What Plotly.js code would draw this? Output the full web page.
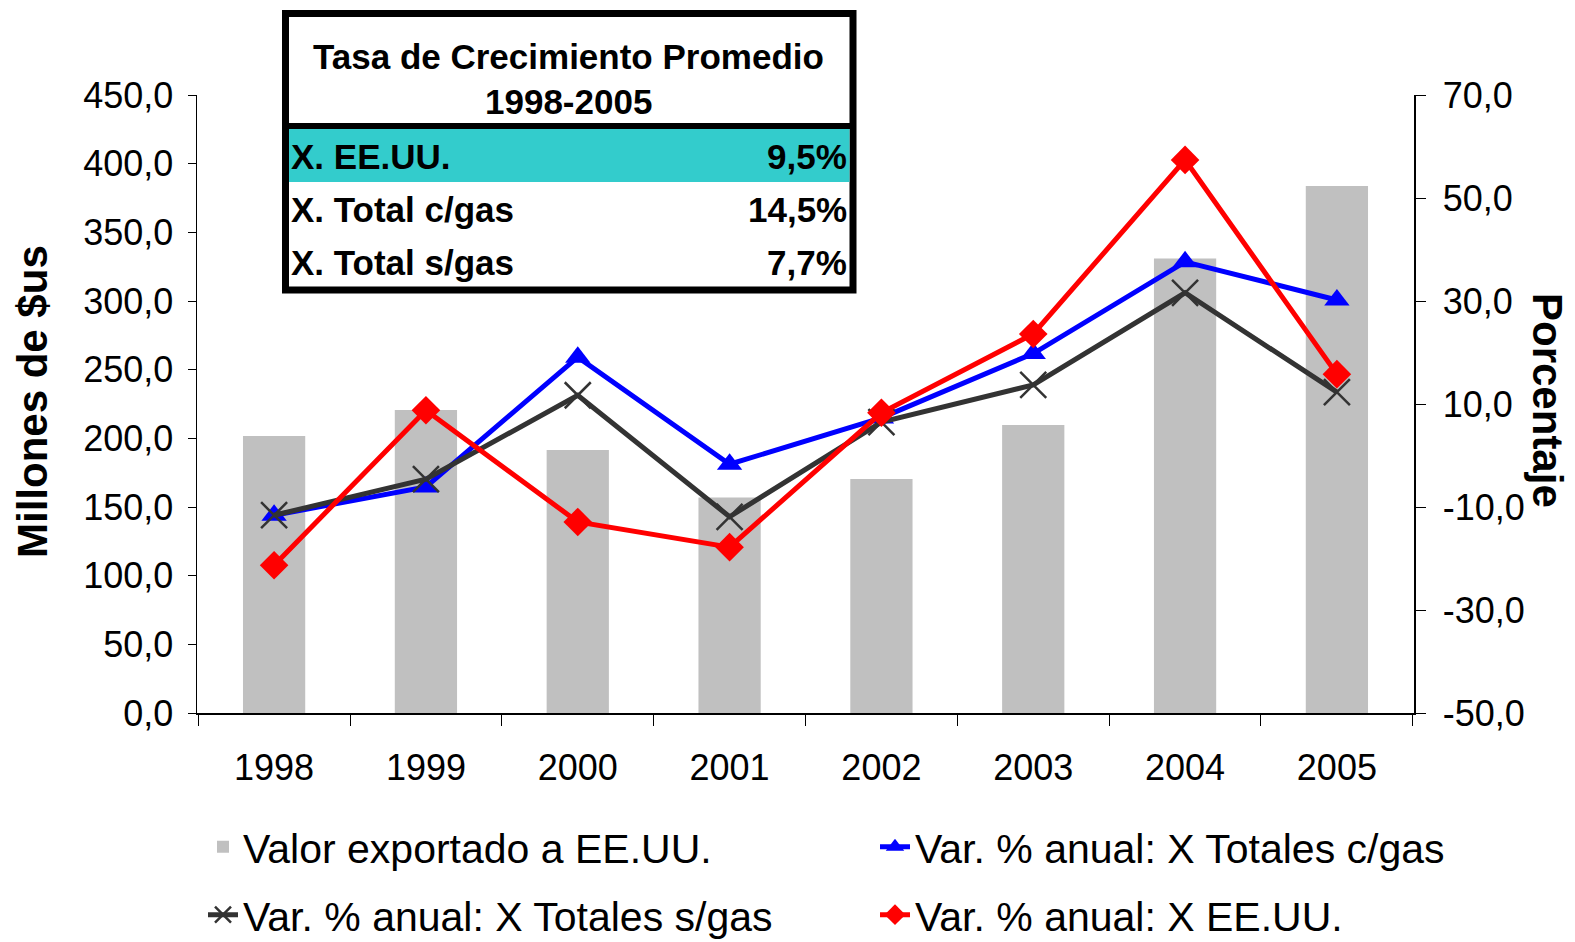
<!DOCTYPE html>
<html>
<head>
<meta charset="utf-8">
<script src="https://cdn.plot.ly/plotly-3.0.1.min.js"></script>
<style>
  html, body { margin: 0; padding: 0; background: #fff; }
  #chart { width: 1575px; height: 942px; }
</style>
</head>
<body>
<div id="chart"></div>
<script>
const years = ["1998", "1999", "2000", "2001", "2002", "2003", "2004", "2005"];
const exportValues = [201.7, 220.6, 191.5, 157.0, 170.4, 209.7, 331.0, 383.7];
const varTotalConGas = [-11.6, -6.1, 19.1, -1.7, 7.3, 19.8, 37.6, 30.2];
const varTotalSinGas = [-11.6, -4.6, 11.7, -11.9, 6.5, 13.7, 31.6, 12.3];
const varEEUU = [-21.3, 8.8, -12.9, -17.8, 8.3, 23.6, 57.4, 15.8];

const rightTicks = [-50, -30, -10, 10, 30, 50, 70];
const rightTickText = rightTicks.map(v => v.toFixed(1).replace(".", ","));

const tableTitle = ["Tasa de Crecimiento Promedio", "1998-2005"];
const tableLabels = ["X. EE.UU.", "X. Total c/gas", "X. Total s/gas"];
const tableValues = ["9,5%", "14,5%", "7,7%"];

const FONT = "Liberation Sans, Arial, sans-serif";

// plot area in pixels
const L = 197, R = 1414, T = 95, B = 713;
const px = x => (x - L) / (R - L);
const py = y => (B - y) / (B - T);

function tableShapes() {
  return [
    {
      type: "rect", xref: "paper", yref: "paper", layer: "above",
      x0: px(285.5), x1: px(853), y0: py(13.5), y1: py(290),
      fillcolor: "#ffffff", line: { color: "#000", width: 7 }
    },
    {
      type: "rect", xref: "paper", yref: "paper", layer: "above",
      x0: px(289), x1: px(849.5), y0: py(129), y1: py(182),
      fillcolor: "#33CCCC", line: { width: 0 }
    },
    {
      type: "line", xref: "paper", yref: "paper", layer: "above",
      x0: px(282), x1: px(856), y0: py(126), y1: py(126),
      line: { color: "#000", width: 6 }
    }
  ];
}

function tableAnnotations() {
  const rowY = [156, 209, 262];
  const notes = [];
  const bold = { family: FONT, size: 35, color: "#000" };
  notes.push({ text: "<b>" + tableTitle[0] + "</b>", x: px(568), y: py(57), xanchor: "center", yanchor: "middle" });
  notes.push({ text: "<b>" + tableTitle[1] + "</b>", x: px(568), y: py(101), xanchor: "center", yanchor: "middle" });
  tableLabels.forEach((label, i) => {
    notes.push({ text: "<b>" + label + "</b>", x: px(289), y: py(rowY[i]), xanchor: "left", yanchor: "middle" });
    notes.push({ text: "<b>" + tableValues[i] + "</b>", x: px(849), y: py(rowY[i]), xanchor: "right", yanchor: "middle" });
  });
  return notes.map(n => Object.assign({ xref: "paper", yref: "paper", showarrow: false, font: bold }, n));
}

const traces = [
  {
    type: "bar",
    name: "Valor exportado a EE.UU.",
    x: years,
    y: exportValues,
    marker: { color: "#C0C0C0" },
    legend: "legend"
  },
  {
    type: "scatter",
    mode: "lines+markers",
    name: "Var. % anual: X Totales c/gas",
    x: years,
    y: varTotalConGas,
    yaxis: "y2",
    line: { color: "#0000FF", width: 5 },
    marker: { symbol: "triangle-up", size: 22, color: "#0000FF" },
    legend: "legend2"
  },
  {
    type: "scatter",
    mode: "lines+markers",
    name: "Var. % anual: X Totales s/gas",
    x: years,
    y: varTotalSinGas,
    yaxis: "y2",
    line: { color: "#333333", width: 5 },
    marker: { symbol: "x-thin", size: 26, color: "#000", line: { width: 2.5 } },
    legend: "legend3"
  },
  {
    type: "scatter",
    mode: "lines+markers",
    name: "Var. % anual: X EE.UU.",
    x: years,
    y: varEEUU,
    yaxis: "y2",
    line: { color: "#FF0000", width: 5 },
    marker: { symbol: "diamond", size: 22, color: "#FF0000" },
    legend: "legend4"
  }
];

function legendAt(xPix, yPix) {
  return {
    orientation: "h",
    xref: "paper", yref: "paper",
    xanchor: "left", yanchor: "middle",
    x: px(xPix), y: py(yPix),
    font: { family: FONT, size: 41, color: "#000" },
    bgcolor: "rgba(0,0,0,0)",
    itemclick: false
  };
}

const layout = {
  width: 1575,
  height: 942,
  margin: { l: L, r: 1575 - R, t: T, b: 942 - B, autoexpand: false },
  paper_bgcolor: "#fff",
  plot_bgcolor: "#fff",
  font: { family: FONT, size: 36, color: "#000" },
  separators: ",.",
  bargap: 0.59,
  showlegend: true,
  xaxis: {
    type: "category",
    showline: true, linecolor: "#000", linewidth: 1.5,
    ticks: "outside", tickson: "boundaries", ticklen: 11, tickcolor: "#000",
    ticklabelstandoff: 22,
    showgrid: false, zeroline: false,
    tickfont: { family: FONT, size: 36 }
  },
  yaxis: {
    range: [0, 450], dtick: 50, tick0: 0,
    tickformat: ".1f",
    showline: true, linecolor: "#000", linewidth: 1.5,
    ticks: "outside", ticklen: 8, tickcolor: "#000",
    ticklabelstandoff: 7,
    showgrid: false, zeroline: false,
    tickfont: { family: FONT, size: 36 }
  },
  yaxis2: {
    overlaying: "y", side: "right",
    range: [-50, 70],
    tickmode: "array", tickvals: rightTicks, ticktext: rightTickText,
    showline: true, linecolor: "#000", linewidth: 1.5,
    ticks: "outside", ticklen: 10, tickcolor: "#000",
    ticklabelstandoff: 10,
    showgrid: false, zeroline: false,
    tickfont: { family: FONT, size: 36 }
  },
  legend: legendAt(203, 847),
  legend2: legendAt(875, 847),
  legend3: legendAt(203, 915),
  legend4: legendAt(875, 915),
  shapes: tableShapes(),
  annotations: tableAnnotations().concat([
    {
      text: "<b>Millones de $us</b>", xref: "paper", yref: "paper",
      x: px(32), y: py(402), xanchor: "center", yanchor: "middle",
      textangle: -90, showarrow: false,
      font: { family: FONT, size: 42, color: "#000" }
    },
    {
      text: "<b>Porcentaje</b>", xref: "paper", yref: "paper",
      x: px(1548), y: py(400), xanchor: "center", yanchor: "middle",
      textangle: 90, showarrow: false,
      font: { family: FONT, size: 42, color: "#000" }
    }
  ])
};

Plotly.newPlot("chart", traces, layout, { displayModeBar: false, staticPlot: true });
</script>
</body>
</html>
